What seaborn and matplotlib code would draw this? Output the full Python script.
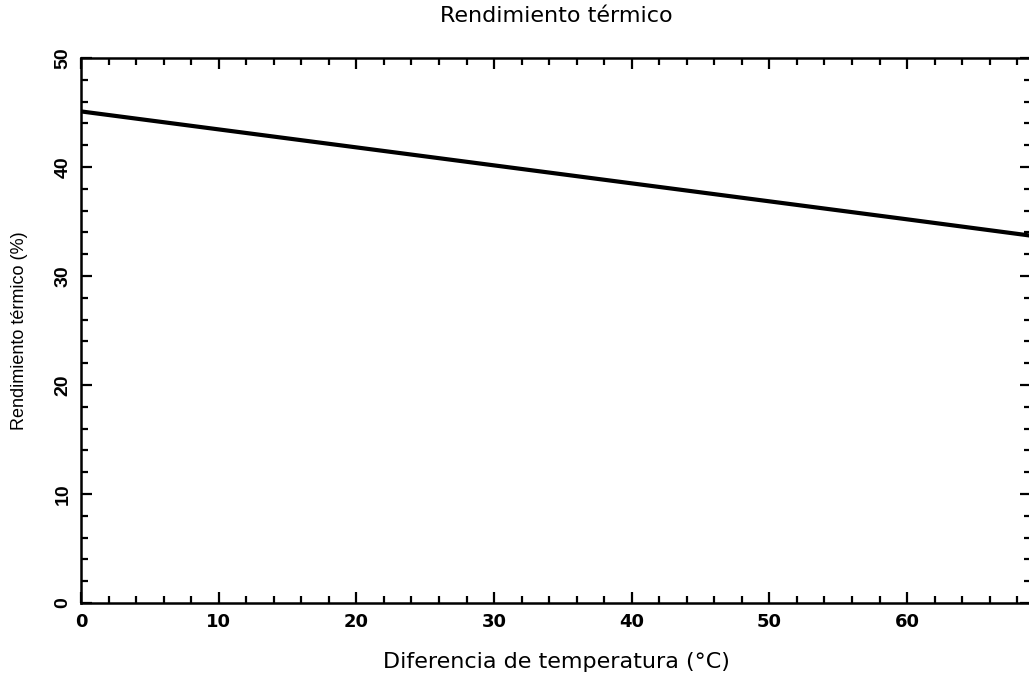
import matplotlib
matplotlib.use("Agg")
import matplotlib.pyplot as plt
from matplotlib.ticker import MultipleLocator
import seaborn as sns
import pandas as pd

# Data
delta_t = [0, 10, 20, 30, 40, 50, 60, 69]
rendimiento = [45.1, 43.45, 41.8, 40.15, 38.5, 36.85, 35.2, 33.7]

title = "Rendimiento térmico"
xlabel = "Diferencia de temperatura (°C)"
ylabel = "Rendimiento térmico (%)"

df = pd.DataFrame({"dt": delta_t, "rend": rendimiento})

sns.set_style("ticks")
plt.rcParams['font.family'] = ['DejaVu Sans']
plt.rcParams['text.color'] = 'black'
plt.rcParams['axes.labelcolor'] = 'black'
plt.rcParams['xtick.color'] = 'black'
plt.rcParams['ytick.color'] = 'black'

fig = plt.figure(figsize=(10.29, 6.75), dpi=100)
ax = fig.add_axes([81/1029, 1 - 603/675, (1031 - 81)/1029, (603 - 58)/675])

sns.lineplot(data=df, x="dt", y="rend", ax=ax, color="black", linewidth=3.0)

ax.set_xlim(0, 69)
ax.set_ylim(0, 50)
ax.xaxis.set_major_locator(MultipleLocator(10))
ax.xaxis.set_minor_locator(MultipleLocator(2))
ax.yaxis.set_major_locator(MultipleLocator(10))
ax.yaxis.set_minor_locator(MultipleLocator(2))

ax.tick_params(which="both", direction="in", top=True, right=True, width=1.6, colors="black")
ax.tick_params(which="major", length=8)
ax.tick_params(which="minor", length=5)
ax.tick_params(axis="x", pad=7)
ax.tick_params(axis="y", pad=7)
for lab in ax.get_xticklabels():
    lab.set_fontfamily("DejaVu Sans")
    lab.set_fontsize(13)
    lab.set_fontweight("bold")
for lab in ax.get_yticklabels():
    lab.set_fontfamily("Liberation Sans")
    lab.set_fontsize(14)
    lab.set_fontweight("bold")
    lab.set_rotation(90)
    lab.set_va("center")

for s in ax.spines.values():
    s.set_linewidth(1.8)
    s.set_color("black")

ax.set_title(title, fontsize=16, pad=26, family="DejaVu Sans", color="black")
ax.set_xlabel(xlabel, fontsize=16, labelpad=15, family="DejaVu Sans", color="black")
ax.set_ylabel(ylabel, fontsize=13, labelpad=19, family="Liberation Sans", color="black")

fig.savefig("out.png", dpi=100)
